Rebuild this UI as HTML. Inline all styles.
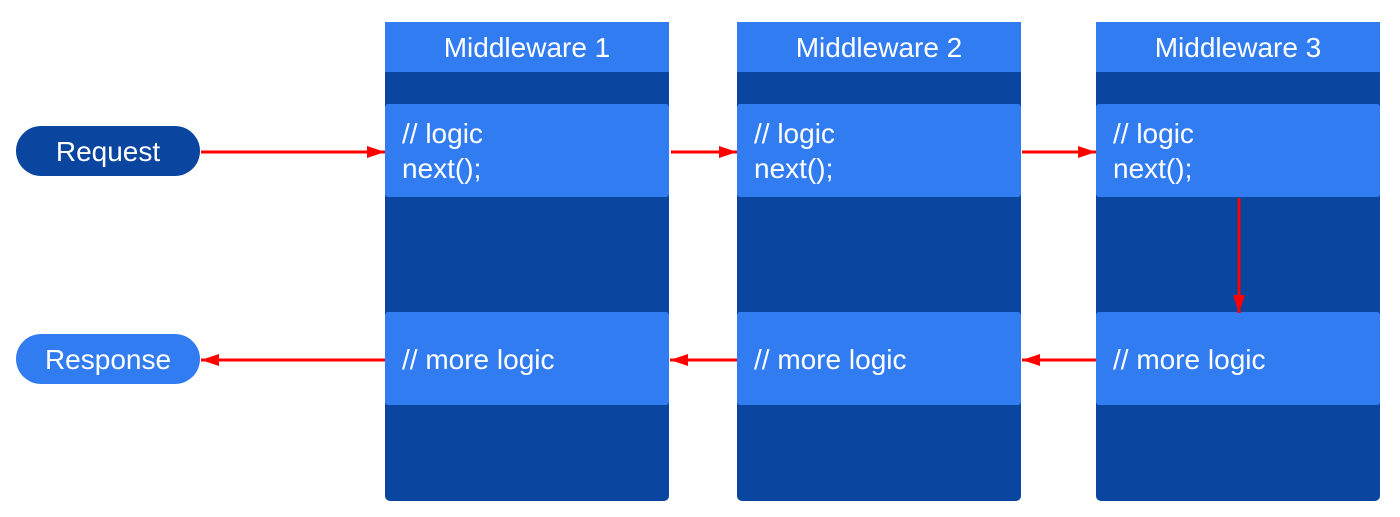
<!DOCTYPE html>
<html><head><style>
body{margin:0;width:1400px;height:517px;background:#fff;position:relative;overflow:hidden;font-family:"Liberation Sans",Arial,sans-serif;}
.col{position:absolute;top:22px;width:284px;height:479px;background:#0a45a0;border-radius:0 0 5px 5px;}
.hd{position:absolute;left:0;top:0;width:100%;height:50px;background:#327cf2;color:#fff;font-size:28px;line-height:52px;text-align:center;}
.bl{position:absolute;left:0;width:100%;height:93px;background:#327cf2;border-radius:3px;color:#fff;font-size:28px;line-height:35px;box-sizing:border-box;padding-left:17px;}
.pill{position:absolute;left:16px;width:184px;height:50px;border-radius:25px;color:#fff;font-size:28px;line-height:52px;text-align:center;}
</style></head><body>
<div class="pill" style="top:126px;background:#0a45a0">Request</div>
<div class="pill" style="top:334px;background:#327cf2">Response</div>
<div class="col" style="left:385px"><div class="hd">Middleware 1</div><div class="bl" style="top:82px;padding-top:12px">// logic<br>next();</div><div class="bl" style="top:290px;padding-top:30px">// more logic</div></div>
<div class="col" style="left:737px"><div class="hd">Middleware 2</div><div class="bl" style="top:82px;padding-top:12px">// logic<br>next();</div><div class="bl" style="top:290px;padding-top:30px">// more logic</div></div>
<div class="col" style="left:1096px"><div class="hd">Middleware 3</div><div class="bl" style="top:82px;padding-top:12px">// logic<br>next();</div><div class="bl" style="top:290px;padding-top:30px">// more logic</div></div>
<svg width="1400" height="517" style="position:absolute;left:0;top:0">
<defs>
<marker id="b" viewBox="0 0 18 12" markerWidth="18" markerHeight="12" refX="18" refY="6" orient="auto" markerUnits="userSpaceOnUse"><path d="M0,0L18,6L0,12z" fill="#f00"/></marker></defs>
<g stroke="#f00" stroke-width="3" fill="none" marker-end="url(#b)">
<line x1="201" y1="152" x2="385" y2="152"/>
<line x1="671" y1="152" x2="737" y2="152"/>
<line x1="1022" y1="152" x2="1096" y2="152"/>
<line x1="1239" y1="198" x2="1239" y2="313"/>
<line x1="1096" y1="360" x2="1022" y2="360"/>
<line x1="737" y1="360" x2="670" y2="360"/>
<line x1="385" y1="360" x2="201" y2="360"/>
</g></svg>
</body></html>
